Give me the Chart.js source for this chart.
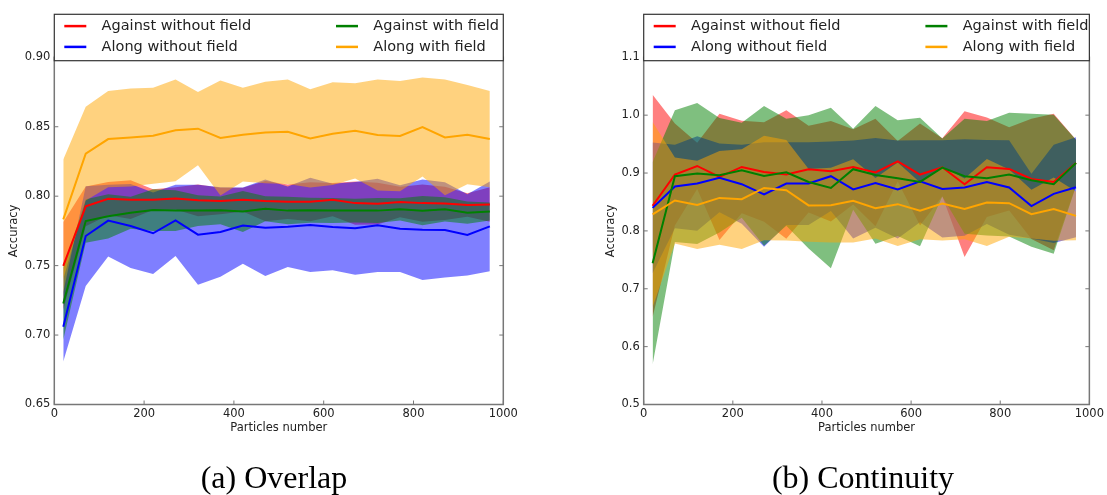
<!DOCTYPE html>
<html>
<head>
<meta charset="utf-8">
<script src="https://cdn.jsdelivr.net/npm/chart.js@4.4.1/dist/chart.umd.min.js"></script>
<style>
  body { margin: 0; background: #fff; }
  #page { position: relative; width: 1107px; height: 495px; overflow: hidden; }
  canvas { position: absolute; top: 0; }
  #overlapChart { left: 0; }
  #continuityChart { left: 553px; }
  .caption {
    position: absolute;
    font-family: "Liberation Serif", serif;
    font-size: 32px;
    color: #000;
    white-space: nowrap;
    transform: translateX(-50%);
  }
</style>
</head>
<body>
<div id="page">
  <canvas id="overlapChart" width="553" height="495"></canvas>
  <canvas id="continuityChart" width="554" height="495"></canvas>
  <div class="caption" style="left:274px; top:459px;">(a) Overlap</div>
  <div class="caption" style="left:863px; top:459px;">(b) Continuity</div>
</div>
<script>
const particles = [20, 70, 120, 170, 220, 270, 320, 370, 420, 470, 520, 570, 620, 670, 720, 770, 820, 870, 920, 970];
const particleTicks = [0, 200, 400, 600, 800, 1000];
const overlapTicks = [0.65, 0.70, 0.75, 0.80, 0.85, 0.90];
const continuityTicks = [0.5, 0.6, 0.7, 0.8, 0.9, 1.0, 1.1];

const seriesNames = ["Against without field", "Along without field", "Against with field", "Along with field"];

// overlap: mean accuracy and std for each series
const overlapAgainstNoField = [0.7498, 0.7927, 0.7982, 0.7975, 0.7975, 0.7984, 0.797, 0.7965, 0.7975, 0.7965, 0.796, 0.796, 0.7975, 0.795, 0.7946, 0.7958, 0.795, 0.7948, 0.7936, 0.794];
const overlapAgainstNoFieldStd = [0.0316, 0.0143, 0.012, 0.014, 0.0075, 0.008, 0.0115, 0.0095, 0.0085, 0.0145, 0.0125, 0.014, 0.012, 0.0155, 0.015, 0.011, 0.0135, 0.012, 0.0085, 0.0125];
const overlapAlongNoField = [0.706, 0.7713, 0.7824, 0.7785, 0.7733, 0.7826, 0.7723, 0.7742, 0.7788, 0.7773, 0.778, 0.7793, 0.7778, 0.7769, 0.779, 0.7766, 0.7759, 0.7757, 0.7721, 0.7783];
const overlapAlongNoFieldStd = [0.025, 0.0359, 0.0259, 0.0302, 0.0293, 0.0256, 0.036, 0.0322, 0.0274, 0.0347, 0.029, 0.0339, 0.0312, 0.0334, 0.0336, 0.0312, 0.0362, 0.0343, 0.0293, 0.0323];
const overlapAgainstField = [0.7227, 0.7821, 0.7855, 0.7881, 0.790, 0.7896, 0.7896, 0.7898, 0.789, 0.791, 0.7896, 0.7898, 0.7896, 0.7896, 0.7896, 0.7905, 0.7896, 0.7905, 0.7881, 0.789];
const overlapAgainstFieldStd = [0.026, 0.0156, 0.0159, 0.0115, 0.015, 0.0147, 0.011, 0.010, 0.0148, 0.009, 0.0099, 0.009, 0.009, 0.0085, 0.009, 0.008, 0.0106, 0.0087, 0.008, 0.0065];
const overlapAlongField = [0.7833, 0.8306, 0.8411, 0.8423, 0.8435, 0.8474, 0.8486, 0.8419, 0.8443, 0.8459, 0.8464, 0.8416, 0.845, 0.8471, 0.844, 0.8433, 0.8498, 0.8423, 0.8443, 0.8411];
const overlapAlongFieldStd = [0.0432, 0.0338, 0.0346, 0.0353, 0.0345, 0.0366, 0.0264, 0.0414, 0.0337, 0.0365, 0.0376, 0.0354, 0.037, 0.0343, 0.04, 0.0397, 0.0357, 0.0417, 0.0357, 0.0346];

// continuity: mean accuracy and std for each series
const continuityAgainstNoField = [0.8433, 0.8974, 0.9122, 0.8933, 0.9105, 0.9019, 0.8974, 0.9066, 0.9031, 0.9105, 0.9009, 0.9203, 0.8974, 0.91, 0.8807, 0.91, 0.9071, 0.8898, 0.8846, 0.9174];
const continuityAgainstNoFieldStd = [0.192, 0.088, 0.04, 0.109, 0.08, 0.086, 0.111, 0.075, 0.087, 0.065, 0.093, 0.035, 0.088, 0.05, 0.126, 0.086, 0.072, 0.104, 0.118, 0.04];
const continuityAlongNoField = [0.8398, 0.8767, 0.8819, 0.8916, 0.8807, 0.8629, 0.8819, 0.8819, 0.8945, 0.8716, 0.8829, 0.8716, 0.8859, 0.8726, 0.875, 0.8846, 0.875, 0.8428, 0.864, 0.8755];
const continuityAlongNoFieldStd = [0.1128, 0.0723, 0.0815, 0.0593, 0.0683, 0.0905, 0.0715, 0.0715, 0.06, 0.0847, 0.0775, 0.0847, 0.0708, 0.0841, 0.0834, 0.0727, 0.0817, 0.0561, 0.085, 0.0865];
const continuityAgainstField = [0.744, 0.8945, 0.8991, 0.8962, 0.9048, 0.895, 0.9014, 0.8846, 0.8743, 0.9066, 0.8967, 0.891, 0.8846, 0.9095, 0.8945, 0.891, 0.8974, 0.8876, 0.8807, 0.9174];
const continuityAgainstFieldStd = [0.175, 0.1138, 0.1218, 0.0988, 0.0822, 0.1207, 0.0926, 0.1151, 0.1387, 0.0701, 0.119, 0.1, 0.1111, 0.05, 0.0995, 0.0988, 0.1069, 0.115, 0.1202, 0.04];
const continuityAlongField = [0.8284, 0.8526, 0.845, 0.857, 0.8548, 0.8743, 0.8703, 0.844, 0.8445, 0.8519, 0.8393, 0.8462, 0.8347, 0.8474, 0.8381, 0.8491, 0.8479, 0.829, 0.8376, 0.826];
const continuityAlongFieldStd = [0.16, 0.0742, 0.0764, 0.081, 0.0862, 0.0903, 0.087, 0.0628, 0.0645, 0.0719, 0.0523, 0.0722, 0.0491, 0.0641, 0.0525, 0.0751, 0.0581, 0.042, 0.0546, 0.042];

// red, blue, green, orange
const seriesColors = [[255, 0, 0], [0, 0, 255], [0, 128, 0], [255, 165, 0]];
const textColor = "#222";
const axisColor = "#777";
const smallFont = { family: "DejaVu Sans", size: 11.5 };

function toPoints(values) {
    return particles.map((x, k) => ({ x: x, y: values[k] }));
}

// one band (mean +/- std) per series under all of the mean lines
function buildDatasets(means, stds) {
    const datasets = [];
    means.forEach((mean, i) => {
        const [r, g, b] = seriesColors[i];
        datasets.push({
            label: seriesNames[i] + " low",
            data: toPoints(mean.map((m, k) => m - stds[i][k])),
            borderColor: "rgba(0,0,0,0)",
            borderWidth: 0,
            pointRadius: 0,
            fill: false,
            order: 20
        });
        datasets.push({
            label: seriesNames[i] + " high",
            data: toPoints(mean.map((m, k) => m + stds[i][k])),
            borderColor: "rgba(0,0,0,0)",
            borderWidth: 0,
            backgroundColor: `rgba(${r},${g},${b},0.5)`,
            pointRadius: 0,
            fill: "-1",
            order: 14 - i
        });
    });
    means.forEach((mean, i) => {
        const [r, g, b] = seriesColors[i];
        datasets.push({
            label: seriesNames[i],
            data: toPoints(mean),
            borderColor: `rgb(${r},${g},${b})`,
            borderWidth: 2,
            pointRadius: 0,
            fill: false,
            order: 4 - i
        });
    });
    return datasets;
}

// axes box with inward ticks, and the two-column legend on top of it
const frameLegendPlugin = {
    id: "frameLegend",
    afterDraw(chart) {
        const ctx = chart.ctx;
        const area = chart.chartArea;
        const xScale = chart.scales.x;
        const yScale = chart.scales.y;

        ctx.save();
        ctx.strokeStyle = axisColor;
        ctx.lineWidth = 1.5;
        ctx.strokeRect(area.left, area.top, area.right - area.left, area.bottom - area.top);
        ctx.beginPath();
        yScale.ticks.forEach(t => {
            const py = yScale.getPixelForValue(t.value);
            ctx.moveTo(area.left, py);
            ctx.lineTo(area.left + 4, py);
            ctx.moveTo(area.right, py);
            ctx.lineTo(area.right - 4, py);
        });
        xScale.ticks.forEach(t => {
            const px = xScale.getPixelForValue(t.value);
            ctx.moveTo(px, area.bottom);
            ctx.lineTo(px, area.bottom - 4);
        });
        ctx.lineWidth = 1;
        ctx.stroke();

        // legend box
        const boxTop = area.top - 43;
        const boxBottom = area.top + 3.4;
        ctx.fillStyle = "#fff";
        ctx.fillRect(area.left, boxTop, area.right - area.left, boxBottom - boxTop);
        ctx.strokeStyle = "#333";
        ctx.lineWidth = 1.2;
        ctx.strokeRect(area.left, boxTop, area.right - area.left, boxBottom - boxTop);

        ctx.font = "14.5px 'DejaVu Sans'";
        ctx.textBaseline = "middle";
        ctx.textAlign = "left";
        seriesNames.forEach((name, i) => {
            const col = Math.floor(i / 2);
            const row = i % 2;
            const x0 = area.left + (col === 0 ? 10 : 281.7);
            const y0 = boxTop + 11.8 + row * 20.8;
            const [r, g, b] = seriesColors[i];
            ctx.strokeStyle = `rgb(${r},${g},${b})`;
            ctx.lineWidth = 2.5;
            ctx.beginPath();
            ctx.moveTo(x0, y0);
            ctx.lineTo(x0 + 22, y0);
            ctx.stroke();
            ctx.fillStyle = textColor;
            ctx.fillText(name, x0 + 37.3, y0);
        });
        ctx.restore();
    }
};

function makeChart(canvasId, means, stds, yTicks, decimals, box) {
    return new Chart(document.getElementById(canvasId), {
        type: "line",
        data: { datasets: buildDatasets(means, stds) },
        options: {
            responsive: false,
            animation: false,
            devicePixelRatio: 1,
            events: [],
            layout: { padding: { left: 0, top: 57.3, right: box.padRight, bottom: 54.5 } },
            plugins: {
                legend: { display: false },
                tooltip: { enabled: false }
            },
            scales: {
                x: {
                    type: "linear",
                    min: particleTicks[0],
                    max: particleTicks[particleTicks.length - 1],
                    afterBuildTicks: s => { s.ticks = particleTicks.map(v => ({ value: v })); },
                    afterFit: s => { s.height = 36; },
                    grid: { display: false, drawTicks: false },
                    border: { display: false },
                    ticks: { color: textColor, font: smallFont, padding: 3, maxRotation: 0, callback: v => String(v) },
                    title: { display: true, text: "Particles number", color: textColor, font: smallFont, padding: { top: 0, bottom: 5.3 } }
                },
                y: {
                    type: "linear",
                    min: yTicks[0],
                    max: yTicks[yTicks.length - 1],
                    afterBuildTicks: s => { s.ticks = yTicks.map(v => ({ value: v })); },
                    afterFit: s => { s.width = box.yWidth; },
                    grid: { display: false, drawTicks: false },
                    border: { display: false },
                    ticks: { color: textColor, font: smallFont, padding: 4, callback: v => Number(v).toFixed(decimals) },
                    title: { display: true, text: "Accuracy", color: textColor, font: smallFont, padding: { top: box.titlePad, bottom: 0 } }
                }
            }
        },
        plugins: [frameLegendPlugin]
    });
}

makeChart("overlapChart",
    [overlapAgainstNoField, overlapAlongNoField, overlapAgainstField, overlapAlongField],
    [overlapAgainstNoFieldStd, overlapAlongNoFieldStd, overlapAgainstFieldStd, overlapAlongFieldStd],
    overlapTicks, 2, { yWidth: 54.3, padRight: 49.7, titlePad: 7.4 });

makeChart("continuityChart",
    [continuityAgainstNoField, continuityAlongNoField, continuityAgainstField, continuityAlongField],
    [continuityAgainstNoFieldStd, continuityAlongNoFieldStd, continuityAgainstFieldStd, continuityAlongFieldStd],
    continuityTicks, 1, { yWidth: 90.7, padRight: 14.5, titlePad: 50.7 });
</script>
</body>
</html>
